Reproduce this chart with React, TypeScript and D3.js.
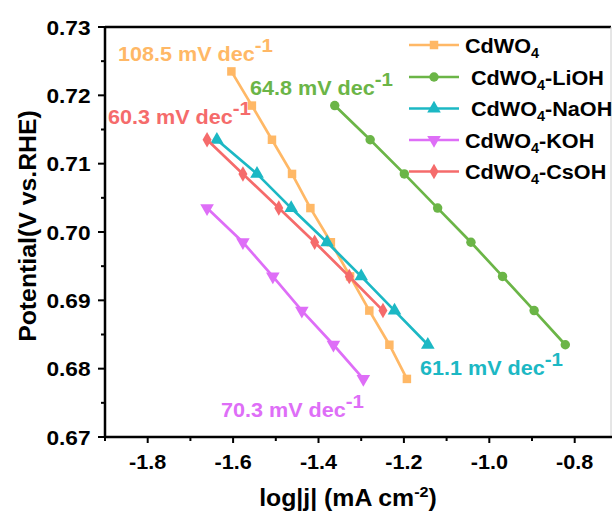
import React from "react";
import * as d3 from "d3";

const cdwo4X = [-1.604, -1.556, -1.509, -1.462, -1.419, -1.371, -1.326, -1.281, -1.234, -1.193];
const cdwo4Y = [0.7235, 0.7185, 0.7135, 0.7085, 0.7035, 0.6985, 0.6935, 0.6885, 0.6835, 0.6785];
const liohX = [-1.362, -1.279, -1.199, -1.121, -1.043, -0.969, -0.895, -0.822];
const liohY = [0.7185, 0.7135, 0.7085, 0.7035, 0.6985, 0.6935, 0.6885, 0.6835];
const naohX = [-1.638, -1.544, -1.464, -1.38, -1.3, -1.222, -1.144];
const naohY = [0.7135, 0.7085, 0.7035, 0.6985, 0.6935, 0.6885, 0.6835];
const kohX = [-1.661, -1.577, -1.507, -1.439, -1.365, -1.295];
const kohY = [0.7035, 0.6985, 0.6935, 0.6885, 0.6835, 0.6785];
const csohX = [-1.661, -1.577, -1.493, -1.409, -1.328, -1.249];
const csohY = [0.7135, 0.7085, 0.7035, 0.6985, 0.6935, 0.6885];

const seriesNames = ["CdWO4", "CdWO4-LiOH", "CdWO4-NaOH", "CdWO4-KOH", "CdWO4-CsOH"];
const slopeLabels = ["108.5", "64.8", "61.1", "70.3", "60.3"];
const xTicks = [-1.8, -1.6, -1.4, -1.2, -1.0, -0.8];
const xMinorTicks = [-1.9, -1.7, -1.5, -1.3, -1.1, -0.9];
const yTicks = [0.67, 0.68, 0.69, 0.7, 0.71, 0.72, 0.73];
const yMinorTicks = [0.675, 0.685, 0.695, 0.705, 0.715, 0.725];

const colors = ["#FFB866", "#6BB547", "#1CB8C4", "#DE6EF7", "#F56B6B"];
const symbols = [d3.symbolSquare, d3.symbolCircle, d3.symbolTriangle, d3.symbolTriangle, d3.symbolDiamond];
const symbolSizes = [72, 70, 80, 80, 70];
const rotations = [0, 0, 0, 180, 0];

const FONT = "'Liberation Sans', Arial, Helvetica, sans-serif";
const SX = 1.08;

export default function App() {
  const left = 105, right = 611, top = 27, bottom = 437;
  const x = d3.scaleLinear().domain([-1.9, -0.715]).range([left, right]);
  const y = d3.scaleLinear().domain([0.67, 0.73]).range([bottom, top]);

  const series = [
    { xs: cdwo4X, ys: cdwo4Y },
    { xs: liohX, ys: liohY },
    { xs: naohX, ys: naohY },
    { xs: kohX, ys: kohY },
    { xs: csohX, ys: csohY },
  ];
  const line = d3.line<[number, number]>().x((d) => x(d[0])).y((d) => y(d[1]));

  const annPos = [
    { px: 118, py: 61 },
    { px: 250, py: 95 },
    { px: 420, py: 375 },
    { px: 221, py: 417 },
    { px: 108, py: 124 },
  ];

  const legendY = [45, 77, 108.5, 140, 171.5];
  const legendTextX = [465, 471, 471, 465, 465];

  return (
    <svg width={612} height={513} style={{ position: "absolute", left: 0, top: 0, background: "#fff" }} fontFamily={FONT}>
      {series.map((s, i) => {
        const pts = s.xs.map((v, j) => [v, s.ys[j]] as [number, number]);
        const sym = d3.symbol().type(symbols[i]).size(symbolSizes[i])() as string;
        return (
          <g key={i}>
            <path d={line(pts) as string} fill="none" stroke={colors[i]} strokeWidth={2.7} />
            {pts.map((p, j) => (
              <path key={j} d={sym} fill={colors[i]} transform={`translate(${x(p[0])},${y(p[1])}) rotate(${rotations[i]})`} />
            ))}
          </g>
        );
      })}

      <line x1={left} x2={right} y1={top} y2={top} stroke="#000" strokeWidth={2.5} />
      <line x1={right} x2={right} y1={top} y2={bottom} stroke="#ccc" strokeWidth={1} />
      <line x1={left} x2={right + 1} y1={bottom} y2={bottom} stroke="#000" strokeWidth={2.5} />
      <line x1={left} x2={left} y1={top - 1} y2={bottom + 1} stroke="#000" strokeWidth={2.5} />

      {xTicks.map((t) => (
        <g key={t}>
          <line x1={x(t)} x2={x(t)} y1={bottom} y2={bottom + 6} stroke="#000" strokeWidth={2} />
          <text transform={`translate(${x(t)},469) scale(${SX},1)`} textAnchor="middle" fontSize={20} fontWeight="bold">
            {d3.format(".1f")(t).replace("−", "-")}
          </text>
        </g>
      ))}
      {xMinorTicks.map((t) => (
        <line key={t} x1={x(t)} x2={x(t)} y1={bottom} y2={bottom + 4} stroke="#000" strokeWidth={2} />
      ))}

      {yTicks.map((t) => (
        <g key={t}>
          <line x1={left - 7} x2={left} y1={y(t)} y2={y(t)} stroke="#000" strokeWidth={2} />
          <text transform={`translate(90.5,${y(t) + 7.5}) scale(${SX},1)`} textAnchor="end" fontSize={21} fontWeight="bold">
            {d3.format(".2f")(t)}
          </text>
        </g>
      ))}
      {yMinorTicks.map((t) => (
        <line key={t} x1={left - 4} x2={left} y1={y(t)} y2={y(t)} stroke="#000" strokeWidth={2} />
      ))}

      <text transform={`translate(348,506) scale(${SX},1)`} textAnchor="middle" fontSize={23} fontWeight="bold">
        log|j| (mA cm
        <tspan dy={-9} fontSize={15}>-2</tspan>
        <tspan dy={9}>)</tspan>
      </text>
      <text transform={`translate(36,226) rotate(-90) scale(${SX},1)`} textAnchor="middle" fontSize={23} fontWeight="bold">
        Potential(V vs.RHE)
      </text>

      {slopeLabels.map((s, i) => (
        <text key={i} transform={`translate(${annPos[i].px},${annPos[i].py}) scale(${SX},1)`} fill={colors[i]} fontSize={20} fontWeight="bold">
          {s} mV dec
          <tspan dy={-9} fontSize={19}>-1</tspan>
        </text>
      ))}

      {seriesNames.map((n, i) => {
        const sym = d3.symbol().type(symbols[i]).size(symbolSizes[i])() as string;
        const parts = n.split("4");
        return (
          <g key={n}>
            <line x1={409} x2={459} y1={legendY[i]} y2={legendY[i]} stroke={colors[i]} strokeWidth={2.7} />
            <path d={sym} fill={colors[i]} transform={`translate(434,${legendY[i]}) rotate(${rotations[i]})`} />
            <text transform={`translate(${legendTextX[i]},${legendY[i] + 7.5}) scale(1.03,1)`} fontSize={21} fontWeight="bold">
              {parts[0]}
              <tspan dy={5} fontSize={14}>4</tspan>
              <tspan dy={-5}>{parts[1]}</tspan>
            </text>
          </g>
        );
      })}
    </svg>
  );
}
